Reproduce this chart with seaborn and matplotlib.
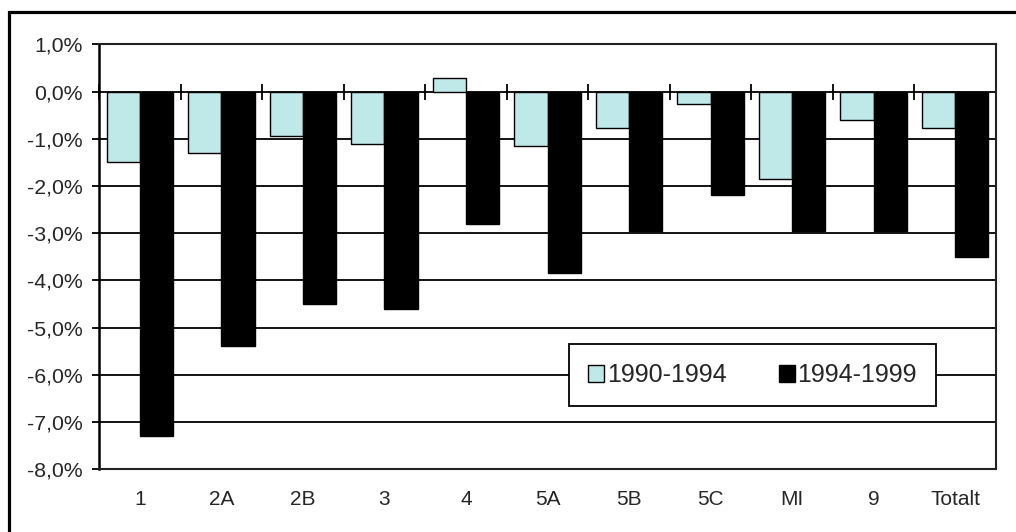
import matplotlib
matplotlib.use("Agg")
import matplotlib.pyplot as plt
import matplotlib.patches as mpatches
from matplotlib.ticker import FuncFormatter, MultipleLocator, FixedLocator
import seaborn as sns
import pandas as pd

# Data (percent change per region)
regions = ["1", "2A", "2B", "3", "4", "5A", "5B", "5C", "MI", "9", "Totalt"]
change_1990_1994 = [-1.5, -1.3, -0.95, -1.1, 0.28, -1.15, -0.78, -0.26, -1.85, -0.6, -0.78]
change_1994_1999 = [-7.3, -5.4, -4.5, -4.6, -2.8, -3.85, -2.95, -2.2, -2.95, -2.95, -3.5]
periods = ["1990-1994", "1994-1999"]

df = pd.DataFrame({
    "region": regions * 2,
    "change": change_1990_1994 + change_1994_1999,
    "period": [periods[0]] * len(regions) + [periods[1]] * len(regions),
})

sns.set_style("white")
plt.rcParams["font.family"] = ["Liberation Sans", "DejaVu Sans"]

fig = plt.figure(figsize=(10.16, 5.32), dpi=100)
ax = fig.add_axes([99 / 1016, 1 - 469 / 532, 897 / 1016, 424.5 / 532])

sns.barplot(
    data=df, x="region", y="change", hue="period", hue_order=periods,
    order=regions, palette={periods[0]: "#BEE9E8", periods[1]: "black"},
    width=0.816, edgecolor="black", linewidth=1.0, saturation=1,
    errorbar=None, ax=ax,
)

ymin, ymax = -8, 1
ax.set_ylim(ymin, ymax)
ax.set_xlim(-0.5, len(regions) - 0.5)
ax.yaxis.set_major_locator(MultipleLocator(1))
ax.yaxis.set_major_formatter(FuncFormatter(lambda v, _: f"{v:.1f}%".replace(".", ",")))
ax.grid(axis="y", color="black", linewidth=1.3)
ax.set_axisbelow(True)
ax.set_xlabel("")
ax.set_ylabel("")

for side in ["top", "right", "bottom"]:
    ax.spines[side].set_color("#222222")
    ax.spines[side].set_linewidth(1.5)
ax.spines["left"].set_color("black")
ax.spines["left"].set_linewidth(1.8)

ax.tick_params(axis="y", direction="out", length=5, width=1.3, color="black",
               pad=7, labelsize=15.3, left=True)
ax.tick_params(axis="x", length=0, pad=15, labelsize=15)

# axis line at 0 with crossing category ticks
zero_pos = (0 - ymin) / (ymax - ymin)
sec = ax.secondary_xaxis(zero_pos)
sec.xaxis.set_major_locator(FixedLocator([i - 0.5 for i in range(len(regions) + 1)]))
sec.tick_params(direction="inout", length=12, width=1.3, color="black", labelbottom=False,
                labeltop=False)
sec.spines["bottom"].set_linewidth(1.3)
sec.spines["top"].set_visible(False)

leg = ax.legend(
    loc="center", bbox_to_anchor=(752.5 / 1016, 1 - 375 / 532),
    bbox_transform=fig.transFigure, ncol=2, fontsize=18, frameon=True,
    fancybox=False, edgecolor="black", framealpha=1, handlelength=0.65,
    handleheight=0.65, handletextpad=0.1, columnspacing=2.1, borderpad=0.75,
    borderaxespad=0,
)
leg.get_frame().set_linewidth(1.3)

# outer chart frame
fig.add_artist(mpatches.Rectangle(
    (8.5 / 1016, -0.05), 1.1, 1.05 - 11.5 / 532, transform=fig.transFigure,
    fill=False, edgecolor="black", linewidth=2.3, clip_on=False,
))

fig.savefig("out.png", dpi=100)
